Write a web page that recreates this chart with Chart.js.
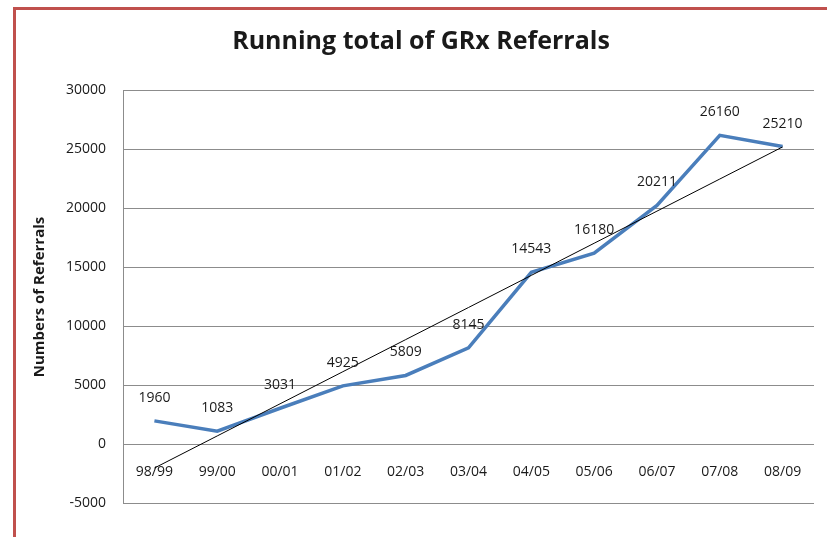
<!DOCTYPE html>
<html>
<head>
<meta charset="utf-8">
<script src="https://cdn.jsdelivr.net/npm/chart.js@4"></script>
<style>
  html, body { margin: 0; padding: 0; background: #fff; overflow: hidden; }
  #frame { position: absolute; left: 13px; top: 7px; width: 900px; height: 600px;
           border-left: 3px solid #c0504d; border-top: 3px solid #c0504d; }
  #wrap { position: absolute; left: 0; top: 0; width: 827px; height: 537px; }
</style>
</head>
<body>
<div id="frame"></div>
<div id="wrap"><canvas id="myChart" width="827" height="537"></canvas></div>
<script>
// years and running totals
var years = ["98/99", "99/00", "00/01", "01/02", "02/03", "03/04", "04/05", "05/06", "06/07", "07/08", "08/09"];
var referrals = [1960, 1083, 3031, 4925, 5809, 8145, 14543, 16180, 20211, 26160, 25210];
var yTicks = [-5000, 0, 5000, 10000, 15000, 20000, 25000, 30000];

// linear trendline (least squares, like Excel)
var n = referrals.length;
var mx = (n - 1) / 2;
var my = referrals.reduce(function (a, b) { return a + b; }, 0) / n;
var sxy = 0, sxx = 0;
for (var i = 0; i < n; i++) {
    sxy += (i - mx) * (referrals[i] - my);
    sxx += (i - mx) * (i - mx);
}
var slope = sxy / sxx;
var trend = years.map(function (y, i) { return my + slope * (i - mx); });

var textFont = "'Open Sans', sans-serif";

// title, y axis title and value labels
var extras = {
    id: 'extras',
    afterDatasetsDraw: function (chart) {
        var ctx = chart.ctx;
        ctx.save();
        ctx.fillStyle = '#1a1a1a';
        ctx.textAlign = 'center';
        ctx.textBaseline = 'middle';
        ctx.font = "bold 25px " + textFont;
        ctx.fillText("Running total of GRx Referrals", 421, 42);

        ctx.save();
        ctx.translate(40, 297);
        ctx.rotate(-Math.PI / 2);
        ctx.font = "bold 15px " + textFont;
        ctx.fillText("Numbers of Referrals", 0, 0);
        ctx.restore();

        ctx.font = "14px " + textFont;
        var meta = chart.getDatasetMeta(1);
        meta.data.forEach(function (pt, i) {
            ctx.fillText(String(referrals[i]), pt.x, pt.y - 23);
        });
        ctx.restore();
    }
};

var ctx = document.getElementById("myChart").getContext("2d");
var myChart = new Chart(ctx, {
    type: 'line',
    data: {
        labels: years,
        datasets: [
            {
                label: "Trend",
                data: trend,
                borderColor: '#000000',
                borderWidth: 1,
                pointRadius: 0,
                tension: 0
            },
            {
                label: "Referrals",
                data: referrals,
                borderColor: '#4a7ebb',
                borderWidth: 3.5,
                pointRadius: 0,
                tension: 0
            }
        ]
    },
    options: {
        responsive: false,
        animation: false,
        layout: { padding: { top: 90, right: 13, bottom: 34, left: 0 } },
        plugins: {
            legend: { display: false },
            tooltip: { enabled: false }
        },
        scales: {
            x: {
                position: { y: 0 },
                offset: true,
                grid: { display: false, offset: true },
                border: { display: false },
                ticks: { color: '#1a1a1a', font: { family: textFont, size: 14 }, padding: 12, maxRotation: 0 }
            },
            y: {
                min: -5000,
                max: 30000,
                afterBuildTicks: function (scale) {
                    scale.ticks = yTicks.map(function (v) { return { value: v }; });
                },
                afterFit: function (scale) { scale.width = 123; },
                grid: { color: '#8c8c8c', lineWidth: 1, drawTicks: false },
                border: { color: '#8c8c8c', width: 1 },
                ticks: {
                    color: '#1a1a1a', font: { family: textFont, size: 14 }, padding: 17,
                    callback: function (v) { return String(v); }
                }
            }
        }
    },
    plugins: [extras]
});
</script>
</body>
</html>
